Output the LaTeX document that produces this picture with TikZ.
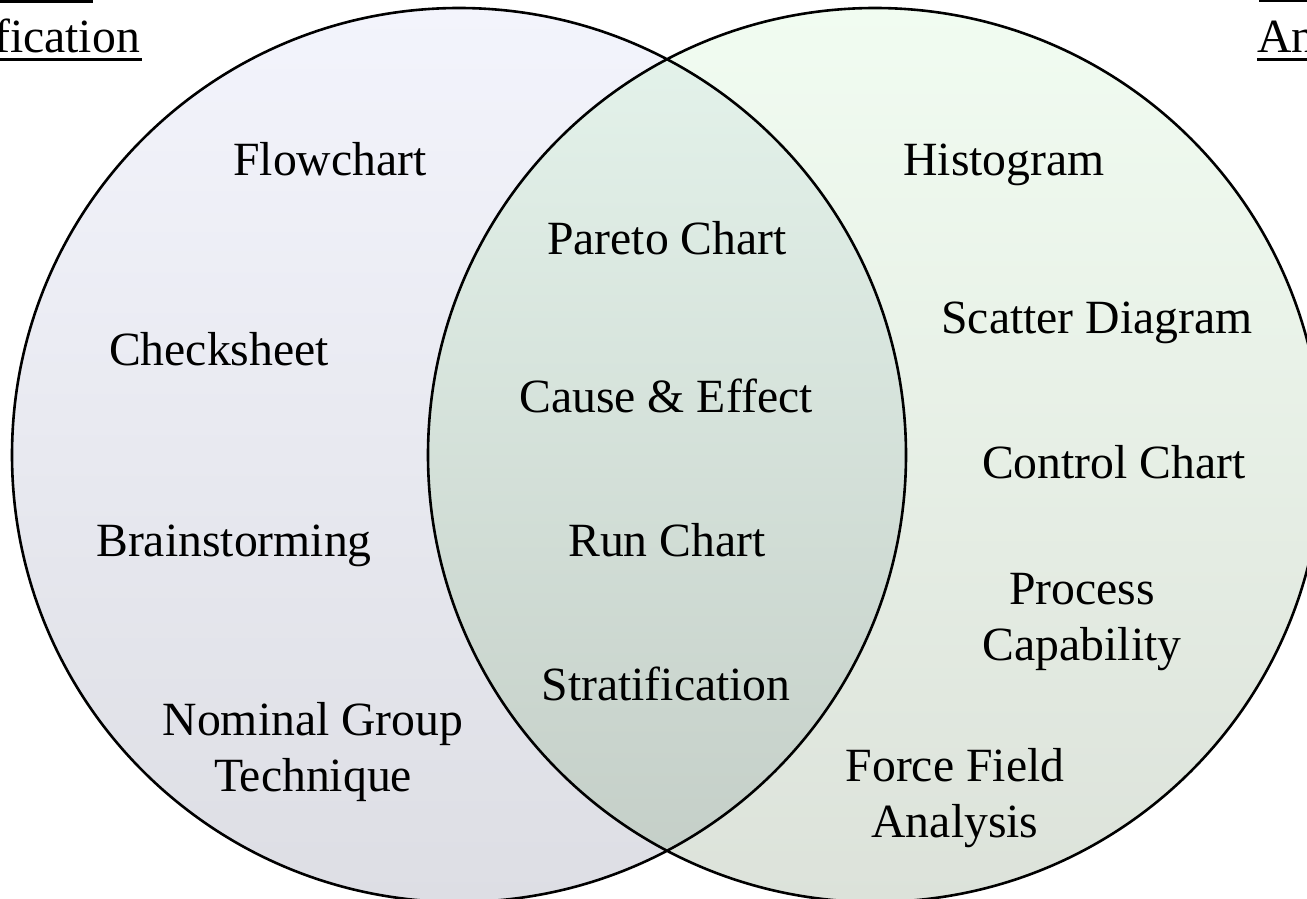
\documentclass[tikz,border=0pt]{standalone}
\usepackage{fontspec}
\setmainfont{Liberation Serif}
\definecolor{leftTop}{RGB}{243,244,252}
\definecolor{leftBottom}{RGB}{221,222,228}
\definecolor{rightTop}{RGB}{241,252,241}
\definecolor{rightBottom}{RGB}{220,226,218}
\definecolor{bothTop}{RGB}{229,244,236}
\definecolor{bothBottom}{RGB}{195,205,198}

\begin{document}
\begin{tikzpicture}
[x=1pt,y=-1pt,
  labelDecorate/.style={align=center,inner sep=0pt,font=\fontsize{47.7}{56}\selectfont},
  circleDecorate/.style={draw=black,line width=2.6pt},
  barDecorate/.style={line width=3pt}]
\useasboundingbox (0,0) rectangle (1307,899);
%% the two sets
\coordinate (leftset) at (459,455);
\coordinate (rightset) at (875,455);
\shade[top color=leftTop,bottom color=leftBottom] (leftset) circle [radius=447pt];
\shade[top color=rightTop,bottom color=rightBottom] (rightset) circle [radius=447pt];
\begin{scope}
  \clip (leftset) circle [radius=447pt];
  \shade[top color=bothTop,bottom color=bothBottom] (rightset) circle [radius=447pt];
\end{scope}
\draw[circleDecorate] (leftset) circle [radius=447pt];
\draw[circleDecorate] (rightset) circle [radius=447pt];
%% set titles
\node[labelDecorate,anchor=base east] (identtitle) at (140,53) {Identification};
\node[labelDecorate,anchor=base west] (analtitle) at (1257,53) {Analysis};
\draw[barDecorate] ([yshift=-6.7pt]identtitle.base west) -- ([yshift=-6.7pt,xshift=2pt]identtitle.base east);
\draw[barDecorate] ([yshift=-6.7pt]analtitle.base west) -- ([yshift=-6.7pt]analtitle.base east);
\draw[barDecorate] (0,1.5) -- (93,1.5);
\draw[barDecorate] (1259,1) -- (1307,1);
%% tools
\foreach \nodename/\x/\y/\anc/\tool in {
  flow/330/175/base/Flowchart,
  check/219/365/base/Checksheet,
  brain/234/556/base/Brainstorming,
  nominal/313/752/center/{Nominal Group\\Technique},
  pareto/667/254/base/Pareto Chart,
  cause/666/412/base/{Cause \& Effect},
  run/667/556/base/Run Chart,
  strat/666/700/base/Stratification,
  histo/1004/175/base/Histogram,
  scatter/1097/333/base/Scatter Diagram,
  control/1114/478/base/Control Chart,
  capab/1082/622/center/{Process\\Capability},
  force/955/798/center/{Force Field\\Analysis}} {
  \node[labelDecorate,anchor=\anc] (\nodename) at (\x,\y) {\tool};
}
\end{tikzpicture}
\end{document}
